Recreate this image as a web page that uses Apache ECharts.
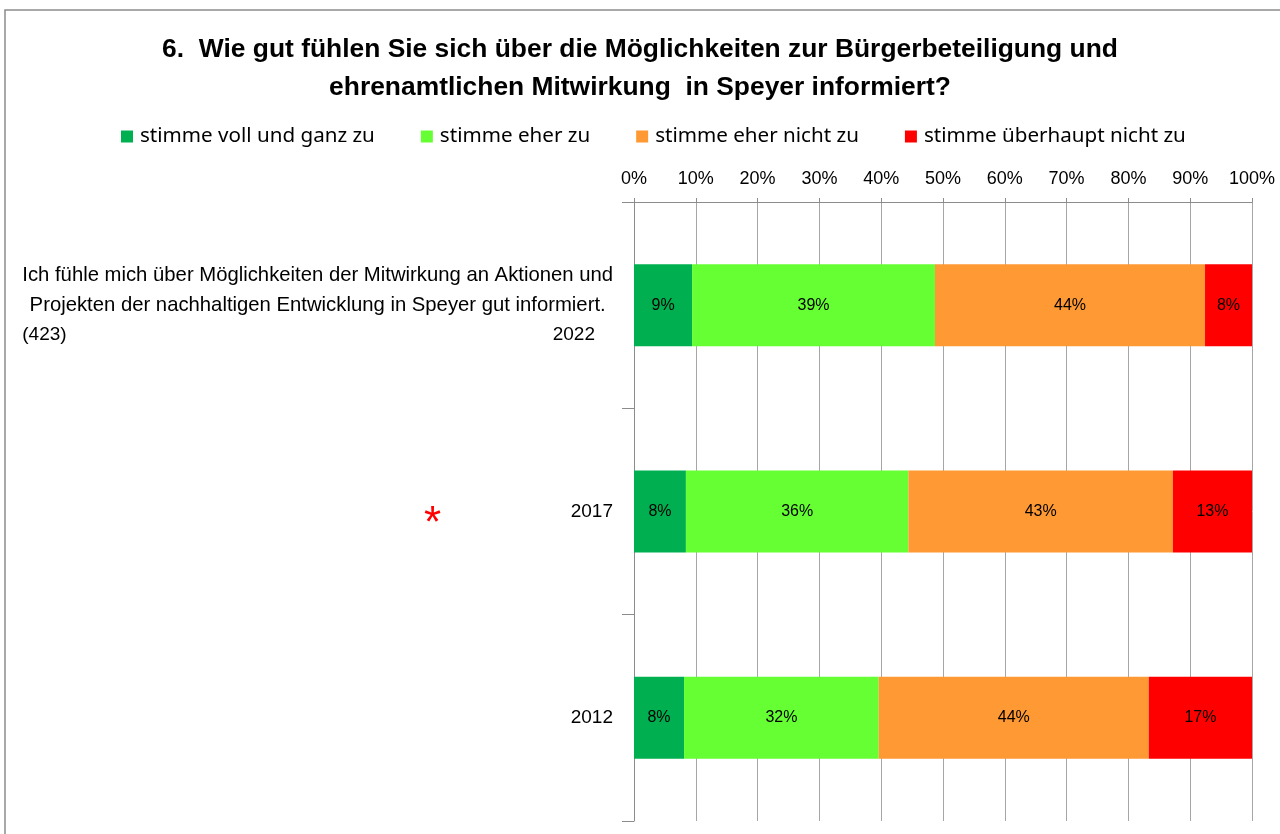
<!DOCTYPE html>
<html>
<head>
<meta charset="utf-8">
<script src="https://cdn.jsdelivr.net/npm/echarts@6/dist/echarts.min.js"></script>
<style>
html,body{margin:0;padding:0;background:#fff;}
#chart{width:1280px;height:834px;}
</style>
</head>
<body>
<div id="chart"></div>
<script>
var years = ['2022', '2017', '2012'];
var seriesNames = ['stimme voll und ganz zu', 'stimme eher zu', 'stimme eher nicht zu', 'stimme überhaupt nicht zu'];
var vollUndGanz = [9.4, 8.4, 8.1];
var eherZu = [39.3, 36.0, 31.5];
var eherNicht = [43.7, 42.8, 43.7];
var ueberhauptNicht = [7.6, 12.8, 16.7];
var xTicks = [0, 10, 20, 30, 40, 50, 60, 70, 80, 90, 100];
var colors = ['#00B050', '#66FF33', '#FF9933', '#FF0000'];

var question1 = 'Ich fühle mich über Möglichkeiten der Mitwirkung an Aktionen und';
var question2 = 'Projekten der nachhaltigen Entwicklung in Speyer gut informiert.';
var sampleSize = '(423)';

var chart = echarts.init(document.getElementById('chart'));
var allData = [vollUndGanz, eherZu, eherNicht, ueberhauptNicht];
var arial = 'Liberation Sans, Arial, sans-serif';

var series = seriesNames.map(function (name, i) {
	return {
		name: name,
		type: 'bar',
		stack: 'total',
		barWidth: 82,
		itemStyle: {color: colors[i]},
		label: {
			show: true,
			position: 'inside',
			color: '#000',
			fontFamily: arial,
			fontSize: 16,
			formatter: function (p) { return Math.round(p.value) + '%'; }
		},
		data: allData[i]
	};
});

var option = {
	animation: false,
	color: colors,
	title: {
		text: '6.  Wie gut fühlen Sie sich über die Möglichkeiten zur Bürgerbeteiligung und\nehrenamtlichen Mitwirkung  in Speyer informiert?',
		left: 'center',
		top: 26,
		textStyle: {
			fontFamily: arial,
			fontWeight: 'bold',
			fontSize: 26.4,
			lineHeight: 38,
			color: '#000'
		}
	},
	legend: {
		top: 121,
		left: 116,
		itemWidth: 12,
		itemHeight: 12,
		itemGap: 46,
		icon: 'rect',
		textStyle: {fontFamily: 'Noto Sans, sans-serif', fontSize: 20.6, color: '#000', padding: [0, 0, 0, 2]},
		data: seriesNames
	},
	grid: {left: 634, right: 28, top: 202, bottom: 13},
	xAxis: {
		type: 'value',
		position: 'top',
		min: 0,
		max: 100,
		interval: 10,
		axisLine: {show: true, lineStyle: {color: '#8c8c8c'}},
		axisTick: {show: true, length: 4, lineStyle: {color: '#8c8c8c'}},
		splitLine: {show: true, lineStyle: {color: '#a6a6a6'}},
		axisLabel: {
			margin: 14,
			color: '#000',
			fontFamily: 'Liberation Sans Narrow, Arial Narrow, Liberation Sans, sans-serif',
			fontSize: 18,
			formatter: function (v) { return xTicks.indexOf(v) >= 0 ? v + '%' : ''; }
		}
	},
	yAxis: {
		type: 'category',
		inverse: true,
		data: years,
		axisLine: {show: true, lineStyle: {color: '#8c8c8c'}},
		axisTick: {show: true, length: 12, lineStyle: {color: '#8c8c8c'}},
		axisLabel: {
			margin: 21,
			color: '#000',
			fontFamily: arial,
			fontSize: 19,
			lineHeight: 30,
			formatter: function (v) {
				if (v === '2022') {
					return '{q|' + question1 + '}\n{q|' + question2 + '}\n{a|' + sampleSize + '}{b|' + v + '}';
				}
				return v;
			},
			rich: {
				q: {align: 'center', fontSize: 20.3, lineHeight: 30, fontFamily: arial},
				a: {align: 'left', fontSize: 19, lineHeight: 30, fontFamily: arial},
				b: {align: 'right', fontSize: 19, lineHeight: 30, padding: [0, 18, 0, 0], fontFamily: arial}
			}
		}
	},
	graphic: [
		{
			type: 'rect',
			shape: {x: 5, y: 10, width: 1400, height: 1000},
			style: {fill: 'none', stroke: '#8c8c8c', lineWidth: 1.5},
			silent: true
		},
		{
			type: 'text',
			left: 424,
			top: 503,
			style: {text: '*', fill: '#FF0000', font: '44px Liberation Sans, Arial, sans-serif'}
		}
	],
	series: series
};

chart.setOption(option);
</script>
</body>
</html>
